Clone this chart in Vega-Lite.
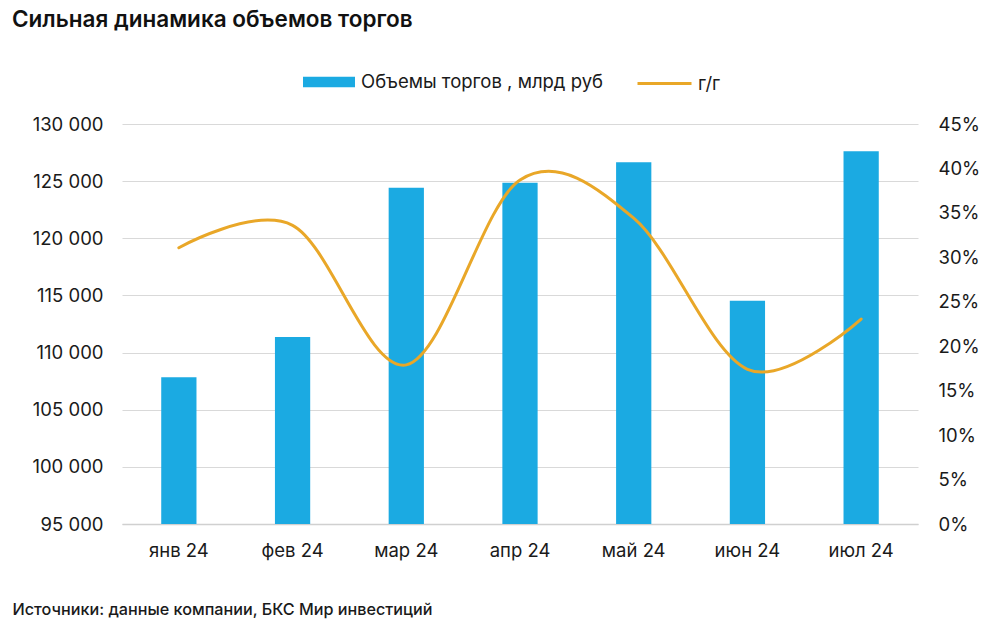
{
  "$schema": "https://vega.github.io/schema/vega-lite/v6.json",
  "width": 796,
  "height": 400,
  "autosize": {"type": "none"},
  "padding": {"left": 122, "top": 124, "right": 82, "bottom": 99},
  "background": "white",
  "config": {
    "font": "Inter",
    "view": {"stroke": null},
    "axis": {"labelColor": "#1a1a1a", "titleColor": "#1a1a1a", "labelFont": "Inter", "titleFont": "Inter"},
    "legend": {"labelFont": "Inter", "labelColor": "#1a1a1a"}
  },
  "title": {
    "text": "Сильная динамика объемов торгов",
    "anchor": "start",
    "frame": "group",
    "dx": -110,
    "fontSize": 22.5,
    "fontWeight": 600,
    "color": "#111111",
    "offset": 24
  },
  "data": {
    "values": [
      {"month": "янв 24", "vol": 107840, "yoy": 0.3108},
      {"month": "фев 24", "vol": 111360, "yoy": 0.336},
      {"month": "мар 24", "vol": 124430, "yoy": 0.179},
      {"month": "апр 24", "vol": 124860, "yoy": 0.387},
      {"month": "май 24", "vol": 126650, "yoy": 0.344},
      {"month": "июн 24", "vol": 114540, "yoy": 0.174},
      {"month": "июл 24", "vol": 127610, "yoy": 0.2306}
    ]
  },
  "encoding": {
    "x": {
      "field": "month",
      "type": "nominal",
      "sort": null,
      "scale": {"paddingInner": 0.69, "paddingOuter": 0.345},
      "axis": {
        "title": "Источники: данные компании, БКС Мир инвестиций",
        "titleX": -110,
        "titleY": 90,
        "titleAlign": "left",
        "titleBaseline": "alphabetic",
        "titleFontSize": 16.2,
        "titleFontWeight": 500,
        "labelAngle": 0,
        "labelFontSize": 18.5,
        "labelPadding": 17,
        "ticks": false,
        "domain": true,
        "domainColor": "#d0d0d0",
        "domainWidth": 1.5,
        "grid": false
      }
    }
  },
  "layer": [
    {
      "mark": {"type": "bar", "clip": true},
      "encoding": {
        "y": {
          "field": "vol",
          "type": "quantitative",
          "scale": {"domain": [95000, 130000], "zero": false, "nice": false},
          "axis": {
            "title": null,
            "orient": "left",
            "values": [95000, 100000, 105000, 110000, 115000, 120000, 125000, 130000],
            "labelExpr": "replace(format(datum.value, ','), ',', ' ')",
            "labelFontSize": 18.5,
            "labelPadding": 19,
            "domain": false,
            "ticks": false,
            "grid": true,
            "gridColor": "#d9d9d9",
            "gridWidth": 1
          }
        },
        "color": {
          "datum": "Объемы торгов , млрд руб",
          "scale": {"range": ["#1BAAE2"]},
          "legend": {
            "title": null,
            "orient": "none",
            "legendX": 181,
            "legendY": -68,
            "padding": 0,
            "symbolType": "M-1,-0.2H1V0.2H-1Z",
            "symbolSize": 2704,
            "symbolStrokeWidth": 0,
            "labelFontSize": 18.5,
            "labelLimit": 400,
            "labelOffset": 6
          }
        }
      }
    },
    {
      "mark": {"type": "line", "interpolate": "cardinal", "strokeWidth": 3, "strokeCap": "round"},
      "encoding": {
        "y": {
          "field": "yoy",
          "type": "quantitative",
          "scale": {"domain": [0, 0.45], "nice": false},
          "axis": {
            "title": null,
            "orient": "right",
            "values": [0, 0.05, 0.1, 0.15, 0.2, 0.25, 0.3, 0.35, 0.4, 0.45],
            "format": ".0%",
            "labelFontSize": 18.5,
            "labelPadding": 20,
            "domain": false,
            "ticks": false,
            "grid": false
          }
        },
        "stroke": {
          "datum": "г/г",
          "scale": {"range": ["#E9A728"]},
          "legend": {
            "title": null,
            "orient": "none",
            "legendX": 514,
            "legendY": -69,
            "padding": 0,
            "symbolType": "stroke",
            "symbolSize": 2916,
            "symbolStrokeWidth": 3,
            "labelFontSize": 18.5,
            "labelLimit": 200,
            "labelOffset": 5
          }
        }
      }
    }
  ],
  "resolve": {"scale": {"y": "independent"}}
}
